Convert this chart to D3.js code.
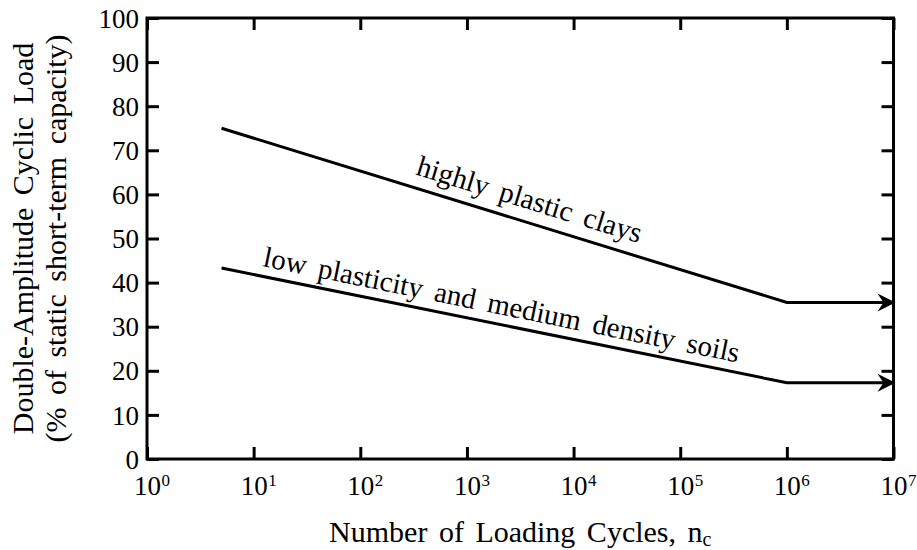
<!DOCTYPE html>
<html>
 <head>
  <title>Cyclic Load vs Loading Cycles</title>
  <style>
  body {
   margin: 0;
   background-color: white;
  }
  svg, svg g, svg text, svg tspan {
   font-family: "Liberation Serif", "Times New Roman", Times, "DejaVu Serif", serif !important;
  }
  svg text {
   fill: black;
  }
  </style>
  <script src="https://cdnjs.cloudflare.com/ajax/libs/d3/7.8.3/d3.min.js"></script>
 </head>

 <body>
  <script>
   // data
   const seriesNames = ["highly plastic clays", "low plasticity and medium density soils"];
   const cycles = [5, 1e6, 1e7];
   const highlyPlastic = [75, 35.5, 35.5];
   const lowPlasticity = [43.3, 17.3, 17.3];
   const labelCycles = [300, 11.5];
   const xTicks = [1e0, 1e1, 1e2, 1e3, 1e4, 1e5, 1e6, 1e7];
   const yTicks = [0, 10, 20, 30, 40, 50, 60, 70, 80, 90, 100];

   const w = 917;
   const h = 550;
   const padL = 147, padR = 893.5, padT = 18, padB = 459;
   const serif = "'Liberation Serif', 'Times New Roman', serif";

   const xScale = d3.scaleLog()
                    .domain([1, 1e7])
                    .range([padL, padR]);
   const yScale = d3.scaleLinear()
                    .domain([0, 100])
                    .range([padB, padT]);

   const svg = d3.select("body")
                 .append("svg")
                 .attr("width", w)
                 .attr("height", h)
                 .attr("font-family", serif);

   svg.append("defs")
      .append("marker")
      .attr("id", "arrow")
      .attr("markerUnits", "userSpaceOnUse")
      .attr("viewBox", "0 0 20 20")
      .attr("markerWidth", 20)
      .attr("markerHeight", 20)
      .attr("refX", 17)
      .attr("refY", 10)
      .attr("orient", "auto")
      .append("path")
      .attr("d", "M1,1 L19,10 L1,19 L7,10 Z")
      .attr("fill", "black");

   // y axis (left, ticks inward)
   const yAxis = d3.axisLeft(yScale)
                   .tickValues(yTicks)
                   .tickSizeInner(-12)
                   .tickSizeOuter(0)
                   .tickPadding(8);
   const gy = svg.append("g")
      .attr("transform", "translate(" + padL + ",0)")
      .call(yAxis)
      .attr("font-family", serif);
   gy.select(".domain").remove();
   gy.selectAll(".tick line").attr("stroke-width", 3);
   gy.selectAll(".tick text")
     .style("font-size", "27px")
     .attr("dy", "0.34em");

   // right ticks
   const gyr = svg.append("g")
      .attr("transform", "translate(" + padR + ",0)")
      .call(d3.axisRight(yScale).tickValues(yTicks).tickSizeInner(-12).tickSizeOuter(0).tickFormat(""));
   gyr.select(".domain").remove();
   gyr.selectAll(".tick line").attr("stroke-width", 3);

   // x axis (bottom, ticks inward)
   const gx = svg.append("g")
      .attr("transform", "translate(0," + padB + ")")
      .call(d3.axisBottom(xScale).tickValues(xTicks).tickSizeInner(-12).tickSizeOuter(0).tickFormat(""))
      .attr("font-family", serif);
   gx.select(".domain").remove();
   gx.selectAll(".tick line").attr("stroke-width", 3);
   gx.selectAll(".tick").each(function(d) {
     const t = d3.select(this);
     t.append("text")
      .attr("x", 0)
      .attr("y", 36)
      .attr("text-anchor", "middle")
      .style("font-size", "27px")
      .text("10");
     t.append("text")
      .attr("x", 14)
      .attr("y", 27)
      .attr("text-anchor", "start")
      .style("font-size", "17px")
      .text(Math.round(Math.log10(d)));
   });

   // top ticks
   const gxt = svg.append("g")
      .attr("transform", "translate(0," + padT + ")")
      .call(d3.axisTop(xScale).tickValues(xTicks).tickSizeInner(-12).tickSizeOuter(0).tickFormat(""));
   gxt.select(".domain").remove();
   gxt.selectAll(".tick line").attr("stroke-width", 3);

   // frame
   svg.append("rect")
      .attr("x", padL)
      .attr("y", padT)
      .attr("width", padR - padL)
      .attr("height", padB - padT)
      .attr("fill", "none")
      .attr("stroke", "black")
      .attr("stroke-width", 3);

   // curves
   const series = [highlyPlastic, lowPlasticity];
   const line = d3.line()
                  .x((d, i) => xScale(cycles[i]))
                  .y(d => yScale(d));
   svg.selectAll("path.curve")
      .data(series)
      .enter()
      .append("path")
      .attr("class", "curve")
      .attr("d", d => line(d))
      .attr("fill", "none")
      .attr("stroke", "black")
      .attr("stroke-width", 3)
      .attr("marker-end", "url(#arrow)");

   // rotated labels along the sloping part
   const offsets = [13, 10];
   series.forEach((vals, k) => {
     const x0 = xScale(cycles[0]), y0 = yScale(vals[0]);
     const x1 = xScale(cycles[1]), y1 = yScale(vals[1]);
     const ang = Math.atan2(y1 - y0, x1 - x0);
     const lx = xScale(labelCycles[k]);
     const ly = y0 + (lx - x0) * (y1 - y0) / (x1 - x0);
     const px = lx + offsets[k] * Math.sin(ang);
     const py = ly - offsets[k] * Math.cos(ang);
     svg.append("text")
        .attr("transform", "translate(" + px + "," + py + ") rotate(" + (ang * 180 / Math.PI) + ")")
        .attr("text-anchor", "start")
        .style("font-size", "29px")
        .style("word-spacing", "5px")
        .text(seriesNames[k]);
   });

   // x title
   const xt = svg.append("text")
      .attr("x", (padL + padR) / 2)
      .attr("y", 542)
      .attr("text-anchor", "middle")
      .style("font-size", "30px")
      .style("word-spacing", "4px");
   xt.append("tspan").text("Number of Loading Cycles, n");
   xt.append("tspan").attr("dy", 4).style("font-size", "20px").text("c");

   // y title
   const ytl = ["Double-Amplitude Cyclic Load", "(% of static short-term capacity)"];
   svg.selectAll("text.ytitle")
      .data(ytl)
      .enter()
      .append("text")
      .attr("class", "ytitle")
      .attr("transform", (d, i) => "translate(" + (33 + 33 * i) + "," + ((padT + padB) / 2) + ") rotate(-90)")
      .attr("text-anchor", "middle")
      .style("font-size", "30px")
      .style("word-spacing", "5px")
      .text(d => d);
  </script>
 </body>
</html>
